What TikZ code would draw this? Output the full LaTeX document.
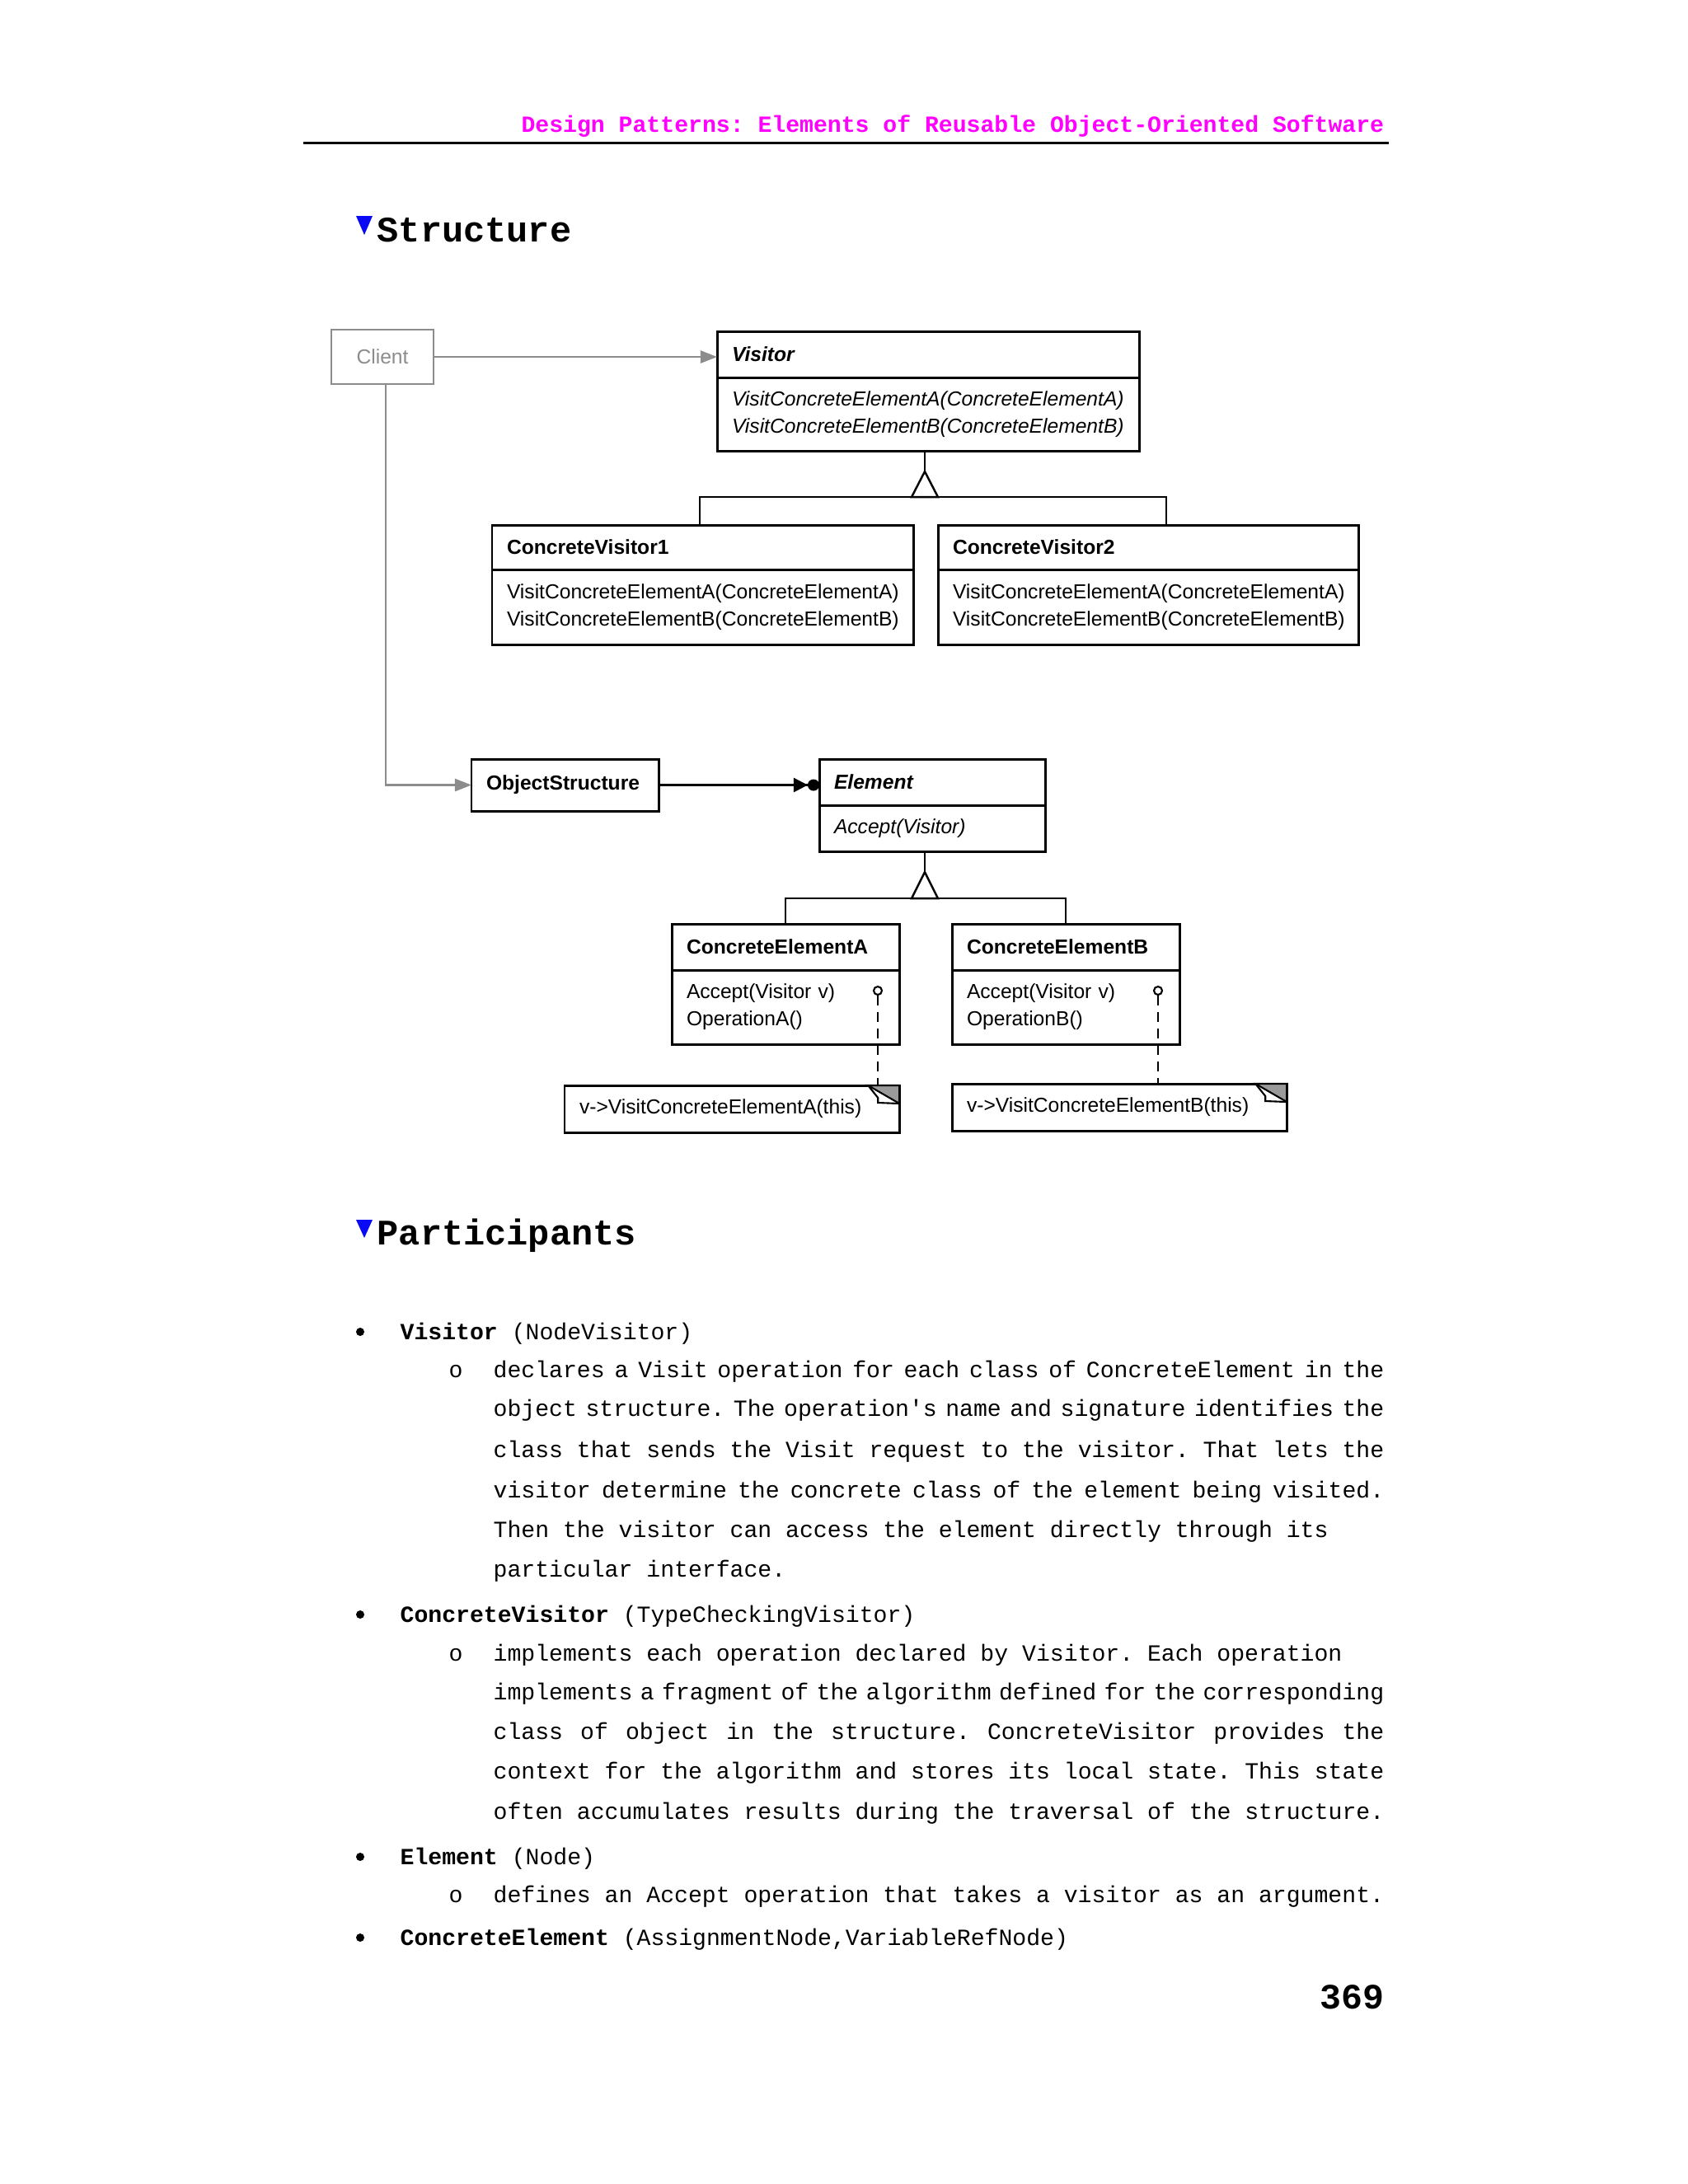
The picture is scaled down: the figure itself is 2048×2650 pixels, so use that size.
\documentclass[tikz,border=0pt]{standalone}
\usepackage{fontspec}
\usepackage{xcolor}
\usepackage{tikz}
\usetikzlibrary{arrows.meta, positioning}
\newfontfamily\schemafont{Liberation Sans}
\newfontfamily\pagefont{Liberation Mono}
\definecolor{entete}{HTML}{FF00FF}
\definecolor{bleu}{HTML}{0A0AF5}
\definecolor{grisclient}{HTML}{8C8C8C}
\definecolor{griscoin}{HTML}{9A9A9A}
\newcommand\schema{\schemafont\fontsize{7}{9.4}\selectfont}
\newcommand\corps{\pagefont\fontsize{8}{9.6}\selectfont\frenchspacing
  \spaceskip=\fontdimen2\font plus 0.6\fontdimen2\font minus 0.45\fontdimen2\font\relax}
\newcommand\justifie[1]{\makebox[10.8cm][s]{#1}}
\tikzset{
  tete/.style={rectangle, draw, line width=0.85pt, fill=white, anchor=north west,
    font=\schema\bfseries, align=left, inner xsep=0.18cm, inner ysep=0pt,
    outer sep=0pt, minimum height=0.56cm},
  tetea/.style={tete, font=\schema\bfseries\itshape},
  corpsclasse/.style={tete, font=\schema},
  corpsa/.style={tete, font=\schema\itshape},
  acteurgris/.style={rectangle, draw=grisclient, text=grisclient, line width=0.7pt,
    font=\schema, anchor=north west, inner sep=0pt, outer sep=0pt},
  remarque/.style={rectangle, draw, line width=0.85pt, fill=white, anchor=north west,
    font=\schema, align=left, inner xsep=0.18cm, inner ysep=0pt, outer sep=0pt,
    text width=3.70cm, minimum height=0.57cm},
  pivot/.style={circle, draw, line width=0.6pt, fill=white, inner sep=0pt,
    minimum size=0.1cm},
  lien/.style={line width=0.7pt, draw=black},
  lienclient/.style={line width=0.7pt, draw=grisclient,
    -{Triangle[length=0.2cm, width=0.15cm]}},
  tirets/.style={line width=0.6pt, dash pattern=on 0.12cm off 0.08cm},
  texte/.style={anchor=base west, inner sep=0pt, font=\corps},
  puce/.style={circle, fill=black, inner sep=0pt, minimum size=0.1cm},
  titresec/.style={anchor=base west, inner sep=0pt,
    font=\pagefont\bfseries\fontsize{12.4}{14}\selectfont}
}
\begin{document}
\begin{tikzpicture}[x=0.01cm, y=-0.01cm]
  \fill[white] (0,0) rectangle (2048,2650);
  \useasboundingbox (0,0) rectangle (2048,2650);

  \node[anchor=base east, inner sep=0pt, text=entete,
        font=\pagefont\bfseries\fontsize{8.0}{10}\selectfont\frenchspacing] (entete) at (1680,160)
        {Design Patterns: Elements of Reusable Object-Oriented Software};
  \draw[line width=0.85pt] (368,173) -- (1685,173);

  \fill[bleu] (432,262) -- (452,262) -- (442,285) -- cycle;
  \node[titresec] (structure) at (457,293) {Structure};

  \node[acteurgris, minimum width=1.24cm, minimum height=0.66cm] (client) at (402,400) {Client};
  \node[tetea, text width=4.76cm] (visitorT) at (870,402) {Visitor};
  \node[corpsa, text width=4.76cm, minimum height=0.89cm, below=0pt of visitorT] (visitorM)
        {VisitConcreteElementA(ConcreteElementA)\\VisitConcreteElementB(ConcreteElementB)};

  \node[tete, text width=4.75cm, minimum height=0.54cm] (cv1T) at (597,637) {ConcreteVisitor1};
  \node[corpsclasse, text width=4.75cm, minimum height=0.91cm, below=0pt of cv1T] (cv1M)
        {VisitConcreteElementA(ConcreteElementA)\\VisitConcreteElementB(ConcreteElementB)};
  \node[tete, text width=4.74cm, minimum height=0.54cm] (cv2T) at (1138,637) {ConcreteVisitor2};
  \node[corpsclasse, text width=4.74cm, minimum height=0.91cm, below=0pt of cv2T] (cv2M)
        {VisitConcreteElementA(ConcreteElementA)\\VisitConcreteElementB(ConcreteElementB)};

  \node[tete, text width=1.91cm, minimum height=0.63cm] (objstruct) at (572,921) {ObjectStructure};
  \node[tetea, text width=2.38cm] (elemT) at (994,921) {Element};
  \node[corpsa, text width=2.38cm, minimum height=0.56cm, below=0pt of elemT] (elemM) {Accept(Visitor)};

  \node[tete, text width=2.40cm] (ceaT) at (815,1121) {ConcreteElementA};
  \node[corpsclasse, text width=2.40cm, minimum height=0.90cm, below=0pt of ceaT] (ceaM)
        {Accept(Visitor v)\\OperationA()};
  \node[tete, text width=2.40cm] (cebT) at (1155,1121) {ConcreteElementB};
  \node[corpsclasse, text width=2.40cm, minimum height=0.90cm, below=0pt of cebT] (cebM)
        {Accept(Visitor v)\\OperationB()};

  \node[remarque] (noteA) at (685,1317) {v->VisitConcreteElementA(this)};
  \node[remarque] (noteB) at (1155,1315) {v->VisitConcreteElementB(this)};
  \filldraw[fill=griscoin, line width=0.6pt] ([xshift=-0.38cm]noteA.north east) -- (noteA.north east)
        -- ([yshift=-0.22cm]noteA.north east) -- cycle;
  \draw[line width=0.6pt] ([xshift=-0.38cm]noteA.north east) -- ++(12,15) -- ++(0,6)
        -- ([yshift=-0.22cm]noteA.north east);
  \filldraw[fill=griscoin, line width=0.6pt] ([xshift=-0.38cm]noteB.north east) -- (noteB.north east)
        -- ([yshift=-0.22cm]noteB.north east) -- cycle;
  \draw[line width=0.6pt] ([xshift=-0.38cm]noteB.north east) -- ++(12,15) -- ++(0,6)
        -- ([yshift=-0.22cm]noteB.north east);

  \node[pivot] (pivotA) at (1065,1202) {};
  \node[pivot] (pivotB) at (1405,1202) {};
  \draw[tirets] (pivotA) -- (pivotA |- noteA.north);
  \draw[tirets] (pivotB) -- (pivotB |- noteB.north);

  \draw[lienclient] (client.east) -- (client.east -| visitorT.west);
  \draw[lienclient] ([xshift=0.04cm]client.south) |- (objstruct.west);
  \draw[lien, -{Triangle[length=0.17cm, width=0.17cm] Circle[length=0.14cm]}]
        (objstruct.east) -- (objstruct.east -| elemT.west);

  \coordinate (tronc) at (1122,0);
  \draw[lien] (visitorM.south -| tronc) -- ++(0,25) coordinate (sommetV);
  \draw[lien] ([xshift=-0.035cm]cv1T.north) -- ++(0,-34) -| ([xshift=0.22cm]cv2T.north);
  \draw[lien, fill=white] (sommetV) -- ++(-16,31) -- ++(32,0) -- cycle;
  \draw[lien] (elemM.south -| tronc) -- ++(0,25) coordinate (sommetE);
  \draw[lien] (ceaT.north) -- ++(0,-31) -| (cebT.north);
  \draw[lien, fill=white] (sommetE) -- ++(-16,32) -- ++(32,0) -- cycle;

  \fill[bleu] (432,1480) -- (452,1480) -- (442,1502) -- cycle;
  \node[titresec] (participants) at (457,1510) {Participants};

  \node[puce] (puce1) at (437,1616) {};
  \node[texte] (nom1) at (485,1625) {\textbf{Visitor} (NodeVisitor)};
  \node[texte] (rond1) at (544,1671) {o};
  \node[texte] (l11) at (598,1671) {\justifie{declares a Visit operation for each class of ConcreteElement in the}};
  \node[texte] (l12) at (598,1718) {\justifie{object structure. The operation\textquotesingle s name and signature identifies the}};
  \node[texte] (l13) at (598,1768) {\justifie{class that sends the Visit request to the visitor. That lets the}};
  \node[texte] (l14) at (598,1817) {\justifie{visitor determine the concrete class of the element being visited.}};
  \node[texte] (l15) at (598,1865) {Then the visitor can access the element directly through its};
  \node[texte] (l16) at (598,1913) {particular interface.};

  \node[puce] (puce2) at (437,1959) {};
  \node[texte] (nom2) at (485,1968) {\textbf{ConcreteVisitor} (TypeCheckingVisitor)};
  \node[texte] (rond2) at (544,2015) {o};
  \node[texte] (l21) at (598,2015) {implements each operation declared by Visitor. Each operation};
  \node[texte] (l22) at (598,2062) {\justifie{implements a fragment of the algorithm defined for the corresponding}};
  \node[texte] (l23) at (598,2110) {\justifie{class of object in the structure. ConcreteVisitor provides the}};
  \node[texte] (l24) at (598,2158) {\justifie{context for the algorithm and stores its local state. This state}};
  \node[texte] (l25) at (598,2207) {\justifie{often accumulates results during the traversal of the structure.}};

  \node[puce] (puce3) at (437,2253) {};
  \node[texte] (nom3) at (485,2262) {\textbf{Element} (Node)};
  \node[texte] (rond3) at (544,2308) {o};
  \node[texte] (l31) at (598,2308) {defines an Accept operation that takes a visitor as an argument.};

  \node[puce] (puce4) at (437,2351) {};
  \node[texte] (nom4) at (485,2360) {\textbf{ConcreteElement} (AssignmentNode,VariableRefNode)};

  \node[anchor=base east, inner sep=0pt,
        font=\pagefont\bfseries\fontsize{12.3}{14}\selectfont] (page) at (1680,2437) {369};
\end{tikzpicture}
\end{document}
